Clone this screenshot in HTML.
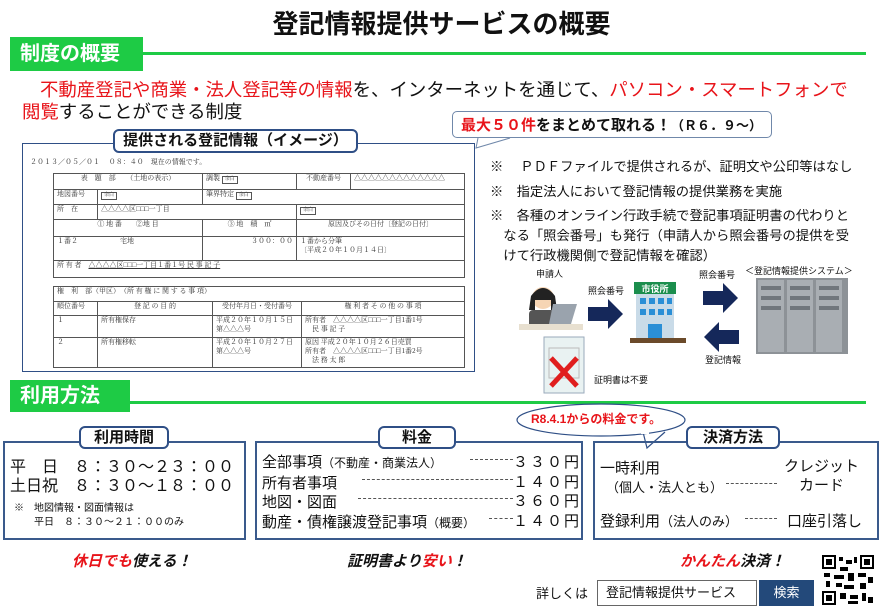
<!DOCTYPE html>
<html><head><meta charset="utf-8">
<style>
*{margin:0;padding:0;box-sizing:border-box}
body{width:883px;height:610px;background:#fff;position:relative;overflow:hidden;font-family:"Liberation Sans","Noto Sans CJK JP",sans-serif;color:#111}
.a{position:absolute;white-space:nowrap}
.red{color:#e8141a}
.gl{background:#1ecb45;color:#fff;font-weight:bold;font-size:20px;line-height:34px;padding-left:10px}
.tab{position:absolute;background:#fff;border:2px solid #2f4f86;border-radius:6px;font-weight:bold;text-align:center;font-size:15px;line-height:19px}
.box{position:absolute;border:2px solid #3a5a8c}
table{border-collapse:collapse;position:absolute;table-layout:fixed;font-family:"Liberation Serif","Noto Serif CJK SC",serif;font-size:7px;color:#333}
td{border:1px solid #555;padding:0 3px;vertical-align:top;line-height:9px;white-space:nowrap;overflow:hidden}
.yb{border:1px solid #555;font-size:5px;line-height:6px;display:inline-block;padding:0 2px}
</style></head><body>
<div class="a" style="left:0;width:883px;top:4px;text-align:center;font-size:26px;font-weight:bold">登記情報提供サービスの概要</div>

<div class="a" style="left:12px;top:52px;width:854px;height:3px;background:#1ecb45"></div>
<div class="a gl" style="left:10px;top:37px;width:133px;height:34px">制度の概要</div>

<div class="a" style="left:40px;top:76px;font-size:18.4px"><span class="red">不動産登記や商業・法人登記等の情報</span>を、インターネットを通じて、<span class="red">パソコン・スマートフォンで</span></div>
<div class="a" style="left:22px;top:98px;font-size:18.4px"><span class="red">閲覧</span>することができる制度</div>

<!-- callout -->
<svg class="a" style="left:0;top:0" width="883" height="610"><path d="M478 138 L476 148 L510 138" fill="#fff" stroke="#7088aa" stroke-width="1"/></svg>
<div class="a" style="left:452px;top:111px;width:320px;height:27px;border:1px solid #7088aa;border-radius:5px;background:#fff"></div>
<div class="a" style="left:461px;top:114px;font-size:15px;font-weight:bold"><span class="red">最大５０件</span>をまとめて取れる！<span style="font-size:13px">（Ｒ６．９～）</span></div>

<!-- doc image -->
<div class="a" style="left:22px;top:143px;width:453px;height:229px;border:1px solid #2f4f86"></div>
<div class="tab" style="left:113px;top:129px;width:245px;height:24px;font-size:15px">提供される登記情報（イメージ）</div>
<div class="a" style="left:30px;top:157px;font-size:7px;font-family:'Liberation Serif','Noto Serif CJK SC',serif;color:#333">２０１３／０５／０１　 ０８：４０　現在の情報です。</div>
<table style="left:53px;top:173px;width:412px;height:105px;border:1.5px solid #333">
<colgroup><col style="width:44px"><col style="width:105px"><col style="width:94px"><col style="width:54px"><col></colgroup>
<tr style="height:16px"><td colspan="2" style="text-align:center">表　題　部　　（土地の表示）</td><td>調製 <span class="yb">余白</span></td><td style="text-align:center">不動産番号</td><td>△△△△△△△△△△△△△</td></tr>
<tr style="height:15px"><td>地図番号</td><td><span class="yb">余白</span></td><td colspan="3">筆界特定 <span class="yb">余白</span></td></tr>
<tr style="height:15px"><td>所　在</td><td colspan="2">△△△△区□□□一丁目</td><td colspan="2"><span class="yb">余白</span></td></tr>
<tr style="height:16px"><td colspan="2" style="text-align:center">① 地 番　　②地 目</td><td style="text-align:center">③ 地　積　㎡</td><td colspan="2" style="text-align:center">原因及びその日付〔登記の日付〕</td></tr>
<tr style="height:24px"><td colspan="2">１番２　　　　　　宅地</td><td style="text-align:right">３００：００</td><td colspan="2">１番から分筆<br>〔平成２０年１０月１４日〕</td></tr>
<tr style="height:17px"><td colspan="5">所 有 者　<u>△△△△区□□□一丁目１番１号 民 事 記 子</u></td></tr>
</table>
<table style="left:53px;top:286px;width:412px;height:81px;border:1.5px solid #333">
<colgroup><col style="width:44px"><col style="width:115px"><col style="width:89px"><col></colgroup>
<tr style="height:15px"><td colspan="4">権　利　部（甲区）　（所 有 権 に 関 す る 事 項）</td></tr>
<tr style="height:14px"><td>順位番号</td><td style="text-align:center">登 記 の 目 的</td><td style="text-align:center">受付年月日・受付番号</td><td style="text-align:center">権 利 者 そ の 他 の 事 項</td></tr>
<tr style="height:22px"><td>１</td><td>所有権保存</td><td>平成２０年１０月１５日<br>第△△△号</td><td>所有者　△△△△区□□□一丁目1番1号<br>　民 事 記 子</td></tr>
<tr style="height:30px"><td>２</td><td>所有権移転</td><td>平成２０年１０月２７日<br>第△△△号</td><td>原因 平成２０年１０月２６日売買<br>所有者　△△△△区□□□一丁目1番2号<br>　法 務 太 郎</td></tr>
</table>

<!-- notes -->
<div class="a" style="left:490px;top:157px;font-size:13.3px;line-height:20px">※　 ＰＤＦファイルで提供されるが、証明文や公印等はなし</div>
<div class="a" style="left:490px;top:182px;font-size:13.3px;line-height:20px">※　指定法人において登記情報の提供業務を実施</div>
<div class="a" style="left:490px;top:206px;font-size:13.3px;line-height:20px">※　各種のオンライン行政手続で登記事項証明書の代わりと<br>　なる「照会番号」も発行（申請人から照会番号の提供を受<br>　けて行政機関側で登記情報を確認）</div>

<!-- diagram -->
<div class="a" style="left:536px;top:267px;font-size:9px">申請人</div>
<svg class="a" style="left:515px;top:280px" width="70" height="60"><circle cx="28" cy="18" r="11" fill="#f6d5b4"/><path d="M16 16 q12 -16 24 0 l2 14 h-6 v-10 h-16 v10 h-6z" fill="#222"/><rect x="14" y="30" width="26" height="20" rx="4" fill="#555"/><polygon points="38,24 62,24 56,44 34,44" fill="#9aa3ad"/><rect x="4" y="44" width="64" height="6" fill="#e8e0d0"/></svg>
<svg class="a" style="left:543px;top:336px" width="42" height="58"><rect x="1" y="1" width="40" height="56" fill="#e9f2f2" stroke="#9ab"/><rect x="6" y="12" width="30" height="30" fill="none" stroke="#bbb"/><path d="M8 22 L34 50 M34 22 L8 50" stroke="#e01e1e" stroke-width="5"/></svg>
<div class="a" style="left:594px;top:373px;font-size:9px">証明書は不要</div>
<div class="a" style="left:588px;top:284px;font-size:9px">照会番号</div>
<svg class="a" style="left:588px;top:299px" width="36" height="30"><path d="M0 8 h20 v-8 l15 15 l-15 15 v-8 h-20z" fill="#15285a"/></svg>
<svg class="a" style="left:630px;top:280px" width="56" height="65"><rect x="4" y="2" width="42" height="12" fill="#1b8e4d"/><text x="25" y="12" text-anchor="middle" font-size="9" fill="#fff" font-weight="bold">市役所</text><rect x="6" y="14" width="38" height="46" fill="#c9dbe8"/><g fill="#2b8fd6"><rect x="10" y="18" width="6" height="6"/><rect x="19" y="18" width="6" height="6"/><rect x="28" y="18" width="6" height="6"/><rect x="37" y="18" width="5" height="6"/><rect x="10" y="29" width="6" height="6"/><rect x="19" y="29" width="6" height="6"/><rect x="28" y="29" width="6" height="6"/><rect x="37" y="29" width="5" height="6"/><rect x="18" y="44" width="14" height="16"/></g><rect x="0" y="58" width="56" height="5" fill="#6b4a2a"/></svg>
<div class="a" style="left:699px;top:268px;font-size:9px">照会番号</div>
<svg class="a" style="left:703px;top:283px" width="36" height="30"><path d="M0 8 h20 v-8 l15 15 l-15 15 v-8 h-20z" fill="#15285a"/></svg>
<svg class="a" style="left:703px;top:322px" width="36" height="30"><path d="M36 8 h-20 v-8 l-15 15 l15 15 v-8 h20z" fill="#15285a"/></svg>
<div class="a" style="left:705px;top:353px;font-size:9px">登記情報</div>
<div class="a" style="left:745px;top:264px;font-size:9px">＜登記情報提供システム＞</div>
<svg class="a" style="left:756px;top:278px" width="92" height="76"><rect x="0" y="0" width="92" height="76" fill="#8d9297"/><rect x="2" y="2" width="26" height="72" fill="#a9aeb3"/><rect x="31" y="2" width="26" height="72" fill="#a9aeb3"/><rect x="60" y="2" width="26" height="72" fill="#a9aeb3"/><g fill="#70767c"><rect x="5" y="8" width="20" height="4"/><rect x="5" y="18" width="20" height="4"/><rect x="5" y="28" width="20" height="4"/><rect x="34" y="8" width="20" height="4"/><rect x="34" y="18" width="20" height="4"/><rect x="34" y="28" width="20" height="4"/><rect x="63" y="8" width="20" height="4"/><rect x="63" y="18" width="20" height="4"/><rect x="63" y="28" width="20" height="4"/></g></svg>

<!-- 利用方法 -->
<div class="a" style="left:12px;top:401px;width:854px;height:3px;background:#1ecb45"></div>
<div class="a gl" style="left:10px;top:380px;width:120px;height:32px;line-height:32px">利用方法</div>

<div class="box" style="left:3px;top:441px;width:243px;height:99px"></div>
<div class="tab" style="left:79px;top:426px;width:90px;height:23px">利用時間</div>
<div class="a" style="left:10px;top:458px;font-size:16px;line-height:19px">平　日　８：３０～２３：００<br>土日祝　８：３０～１８：００</div>
<div class="a" style="left:14px;top:502px;font-size:10px;line-height:14px">※　地図情報・図面情報は<br>　　平日　８：３０～２１：００のみ</div>

<div class="box" style="left:255px;top:441px;width:328px;height:99px"></div>
<div class="tab" style="left:378px;top:426px;width:78px;height:23px">料金</div>
<div class="a" style="left:262px;top:453px;font-size:15px;line-height:19.5px">全部事項<span style="font-size:12px">（不動産・商業法人）</span><br>所有者事項<br>地図・図面<br>動産・債権譲渡登記事項<span style="font-size:12px">（概要）</span></div>
<div class="a" style="left:470px;top:459px;width:43px;border-top:1px dashed #555"></div>
<div class="a" style="left:362px;top:479px;width:151px;border-top:1px dashed #555"></div>
<div class="a" style="left:358px;top:498px;width:155px;border-top:1px dashed #555"></div>
<div class="a" style="left:489px;top:518px;width:24px;border-top:1px dashed #555"></div>
<div class="a" style="left:513px;top:453px;font-size:15px;line-height:19.5px;letter-spacing:2px">３３０円<br>１４０円<br>３６０円<br>１４０円</div>

<svg class="a" style="left:515px;top:402px" width="175" height="50"><path d="M128 30 L132 46 L150 30" fill="#fff" stroke="#2f4f86" stroke-width="1.2"/><ellipse cx="86" cy="18" rx="84" ry="16" fill="#fff" stroke="#2f4f86" stroke-width="1.2"/><path d="M126 31 L134 31" stroke="#fff" stroke-width="2"/></svg>
<div class="a red" style="left:531px;top:410px;font-size:12px;font-weight:bold">R8.4.1からの料金です。</div>

<div class="box" style="left:593px;top:441px;width:286px;height:99px"></div>
<div class="tab" style="left:686px;top:426px;width:94px;height:23px">決済方法</div>
<div class="a" style="left:600px;top:457px;font-size:15px">一時利用</div>
<div class="a" style="left:606px;top:477px;font-size:13px">（個人・法人とも）</div>
<div class="a" style="left:726px;top:483px;width:51px;border-top:1px dashed #555"></div>
<div class="a" style="left:784px;top:457px;font-size:15px;line-height:19px;text-align:center">クレジット<br>カード</div>
<div class="a" style="left:600px;top:510px;font-size:15px">登録利用<span style="font-size:13px">（法人のみ）</span></div>
<div class="a" style="left:745px;top:518px;width:32px;border-top:1px dashed #555"></div>
<div class="a" style="left:787px;top:510px;font-size:15px">口座引落し</div>

<div class="a" style="left:72px;top:550px;font-size:15px;font-weight:bold;font-style:italic"><span class="red">休日でも</span>使える！</div>
<div class="a" style="left:347px;top:550px;font-size:15px;font-weight:bold;font-style:italic">証明書より<span class="red">安い</span>！</div>
<div class="a" style="left:680px;top:550px;font-size:15px;font-weight:bold;font-style:italic"><span class="red">かんたん</span>決済！</div>

<div class="a" style="left:536px;top:583px;font-size:13px">詳しくは</div>
<div class="a" style="left:597px;top:580px;width:160px;height:26px;border:1px solid #666;font-size:13px;line-height:24px;padding-left:8px">登記情報提供サービス</div>
<div class="a" style="left:759px;top:580px;width:55px;height:26px;background:#23497a;color:#fff;font-size:13px;line-height:26px;text-align:center">検索</div>
<svg class="a" style="left:822px;top:555px" width="52" height="50"><rect width="52" height="50" fill="#fff"/><g fill="#000"><rect x="0" y="0" width="14" height="14"/><rect x="38" y="0" width="14" height="14"/><rect x="0" y="36" width="14" height="14"/></g><g fill="#fff"><rect x="2" y="2" width="10" height="10"/><rect x="40" y="2" width="10" height="10"/><rect x="2" y="38" width="10" height="10"/></g><g fill="#000"><rect x="4" y="4" width="6" height="6"/><rect x="42" y="4" width="6" height="6"/><rect x="4" y="40" width="6" height="6"/><rect x="17" y="2" width="4" height="4"/><rect x="24" y="5" width="6" height="4"/><rect x="32" y="2" width="3" height="6"/><rect x="18" y="12" width="8" height="4"/><rect x="2" y="18" width="6" height="4"/><rect x="12" y="20" width="10" height="4"/><rect x="26" y="18" width="6" height="8"/><rect x="36" y="18" width="8" height="4"/><rect x="46" y="22" width="5" height="6"/><rect x="4" y="26" width="4" height="6"/><rect x="14" y="28" width="6" height="4"/><rect x="22" y="30" width="10" height="4"/><rect x="38" y="28" width="6" height="6"/><rect x="18" y="38" width="6" height="6"/><rect x="28" y="40" width="8" height="4"/><rect x="40" y="38" width="4" height="8"/><rect x="46" y="42" width="5" height="6"/><rect x="26" y="46" width="10" height="3"/></g></svg>
</body></html>
